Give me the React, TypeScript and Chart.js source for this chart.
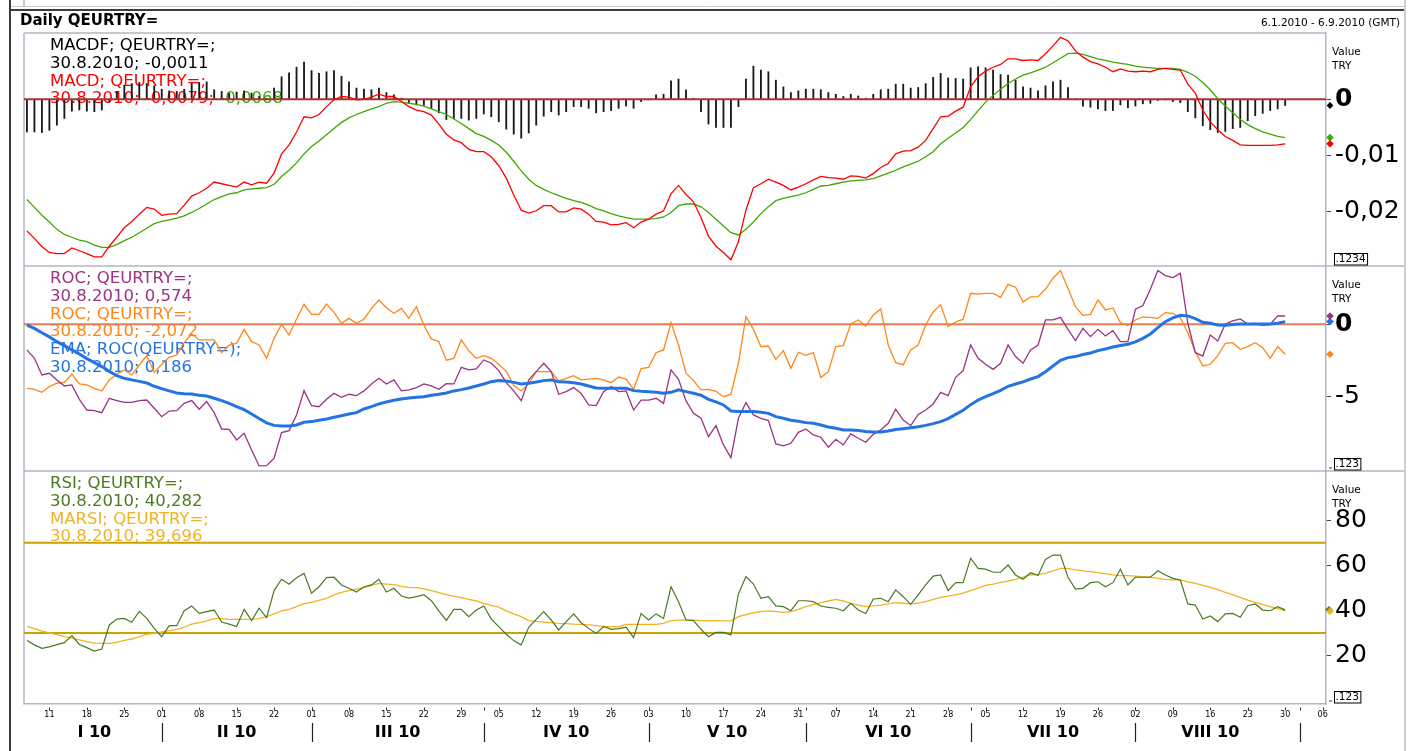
import React, { useEffect, useRef } from 'react';
import { Chart, registerables } from 'chart.js';

Chart.register(...registerables);

const FONT = "'DejaVu Sans', 'Liberation Sans', Arial, sans-serif";
Chart.defaults.font.family = FONT;

// x axis: business-day index, 0 = 6.1.2010 ... 168 = 30.8.2010
const TICK_LABELS = ['11','18','25','01','08','15','22','01','08','15','22','29','05','12','19','26','03','10','17','24','31','07','14','21','28','05','12','19','26','02','09','16','23','30','06'];
const FIRST_TICK = 3;
const TICK_STEP = 5;
const MONTH_LABELS = ['I 10','II 10','III 10','IV 10','V 10','VI 10','VII 10','VIII 10'];
const MONTH_STARTS = [0, 18, 38, 61, 83, 104, 126, 148, 170];
const LAST_DATE = '30.8.2010';
const X_MIN = -0.39;
const X_MAX = 173.45;

// MACD panel
const MACDF = [
  -0.0058,-0.0058,-0.0059,-0.0055,-0.0046,-0.0034,-0.0021,-0.0019,-0.0021,-0.0022,
  -0.0019,-0.0005,0.0014,0.0025,0.0028,0.0030,0.0028,0.0024,0.0018,0.0015,
  0.0014,0.0018,0.0028,0.0030,0.0031,0.0017,0.0014,0.0011,0.0013,0.0015,
  0.0011,0.0005,0.0002,0.0020,0.0040,0.0047,0.0057,0.0066,0.0051,0.0046,
  0.0049,0.0051,0.0041,0.0031,0.0020,0.0018,0.0017,0.0020,0.0012,0.0008,
  0.0002,-0.0007,-0.0010,-0.0011,-0.0016,-0.0024,-0.0036,-0.0034,-0.0034,-0.0037,
  -0.0034,-0.0026,-0.0031,-0.0040,-0.0053,-0.0062,-0.0069,-0.0060,-0.0046,-0.0030,
  -0.0022,-0.0028,-0.0022,-0.0013,-0.0013,-0.0016,-0.0024,-0.0022,-0.0020,-0.0016,
  -0.0012,-0.0016,-0.0004,-0.0001,0.0008,0.0009,0.0033,0.0036,0.0017,0.0002,
  -0.0022,-0.0044,-0.0050,-0.0050,-0.0050,-0.0013,0.0036,0.0059,0.0052,0.0049,
  0.0034,0.0022,0.0012,0.0015,0.0018,0.0018,0.0017,0.0012,0.0009,0.0005,
  0.0009,0.0006,0.0002,0.0009,0.0017,0.0018,0.0027,0.0027,0.0020,0.0021,
  0.0028,0.0039,0.0046,0.0038,0.0037,0.0036,0.0056,0.0058,0.0056,0.0052,
  0.0044,0.0043,0.0034,0.0022,0.0020,0.0015,0.0024,0.0031,0.0034,0.0021,
  0.0001,-0.0012,-0.0014,-0.0017,-0.0020,-0.0020,-0.0010,-0.0015,-0.0012,-0.0008,
  -0.0007,-0.0002,-0.0001,-0.0004,-0.0006,-0.0022,-0.0033,-0.0047,-0.0054,-0.0059,
  -0.0057,-0.0052,-0.0050,-0.0038,-0.0029,-0.0025,-0.0020,-0.0017,-0.0011,
];
const MACD = [
  -0.0234,-0.0247,-0.0262,-0.0272,-0.0274,-0.0274,-0.0264,-0.0269,-0.0274,-0.0280,
  -0.0280,-0.0261,-0.0245,-0.0228,-0.0217,-0.0204,-0.0192,-0.0195,-0.0206,-0.0204,
  -0.0203,-0.0188,-0.0172,-0.0166,-0.0158,-0.0147,-0.0150,-0.0153,-0.0156,-0.0147,
  -0.0152,-0.0147,-0.0149,-0.0131,-0.0097,-0.0081,-0.0058,-0.0031,-0.0033,-0.0027,
  -0.0013,-0.0001,0.0005,0.0004,-0.0001,0.0000,0.0004,0.0009,0.0005,0.0005,
  -0.0004,-0.0013,-0.0019,-0.0022,-0.0028,-0.0044,-0.0062,-0.0072,-0.0077,-0.0089,
  -0.0093,-0.0093,-0.0102,-0.0118,-0.0140,-0.0170,-0.0197,-0.0202,-0.0198,-0.0189,
  -0.0189,-0.0200,-0.0200,-0.0193,-0.0195,-0.0204,-0.0217,-0.0218,-0.0223,-0.0222,
  -0.0219,-0.0228,-0.0218,-0.0213,-0.0204,-0.0198,-0.0168,-0.0153,-0.0169,-0.0182,
  -0.0210,-0.0243,-0.0261,-0.0272,-0.0285,-0.0253,-0.0197,-0.0157,-0.0150,-0.0142,
  -0.0147,-0.0153,-0.0161,-0.0156,-0.0150,-0.0143,-0.0137,-0.0139,-0.0140,-0.0142,
  -0.0136,-0.0137,-0.0140,-0.0132,-0.0121,-0.0114,-0.0097,-0.0092,-0.0091,-0.0085,
  -0.0073,-0.0052,-0.0031,-0.0030,-0.0021,-0.0014,0.0022,0.0040,0.0050,0.0057,
  0.0062,0.0072,0.0072,0.0069,0.0070,0.0069,0.0081,0.0095,0.0110,0.0104,
  0.0086,0.0075,0.0067,0.0063,0.0057,0.0049,0.0054,0.0050,0.0049,0.0050,
  0.0049,0.0053,0.0055,0.0053,0.0052,0.0027,0.0011,-0.0019,-0.0040,-0.0054,
  -0.0066,-0.0073,-0.0081,-0.0082,-0.0082,-0.0082,-0.0082,-0.0081,-0.0079,
];
const MACD_SIGNAL = [
  -0.0178,-0.0192,-0.0206,-0.0218,-0.0231,-0.0240,-0.0245,-0.0250,-0.0253,-0.0259,
  -0.0263,-0.0263,-0.0258,-0.0251,-0.0245,-0.0237,-0.0229,-0.0221,-0.0217,-0.0214,
  -0.0211,-0.0207,-0.0201,-0.0194,-0.0186,-0.0178,-0.0173,-0.0168,-0.0166,-0.0161,
  -0.0159,-0.0158,-0.0157,-0.0151,-0.0137,-0.0126,-0.0113,-0.0097,-0.0084,-0.0074,
  -0.0063,-0.0052,-0.0041,-0.0033,-0.0027,-0.0022,-0.0017,-0.0013,-0.0007,-0.0004,
  -0.0005,-0.0007,-0.0009,-0.0012,-0.0017,-0.0022,-0.0027,-0.0035,-0.0043,-0.0052,
  -0.0061,-0.0066,-0.0073,-0.0081,-0.0094,-0.0110,-0.0127,-0.0142,-0.0153,-0.0160,
  -0.0166,-0.0171,-0.0176,-0.0180,-0.0183,-0.0188,-0.0194,-0.0198,-0.0203,-0.0207,
  -0.0210,-0.0213,-0.0213,-0.0213,-0.0212,-0.0209,-0.0201,-0.0189,-0.0186,-0.0186,
  -0.0191,-0.0201,-0.0213,-0.0225,-0.0237,-0.0241,-0.0231,-0.0218,-0.0203,-0.0191,
  -0.0180,-0.0176,-0.0173,-0.0170,-0.0166,-0.0160,-0.0154,-0.0153,-0.0150,-0.0147,
  -0.0145,-0.0144,-0.0143,-0.0141,-0.0136,-0.0131,-0.0126,-0.0120,-0.0115,-0.0110,
  -0.0102,-0.0093,-0.0079,-0.0069,-0.0060,-0.0050,-0.0036,-0.0020,-0.0005,0.0007,
  0.0018,0.0028,0.0036,0.0043,0.0047,0.0052,0.0057,0.0065,0.0073,0.0081,
  0.0082,0.0080,0.0076,0.0072,0.0069,0.0066,0.0064,0.0062,0.0059,0.0057,
  0.0056,0.0055,0.0055,0.0055,0.0053,0.0048,0.0041,0.0030,0.0017,0.0001,
  -0.0012,-0.0024,-0.0036,-0.0045,-0.0052,-0.0058,-0.0062,-0.0066,-0.0068,
];
const MACD_TICKS = [0, -0.01, -0.02];

// ROC panel
const ROC_A = [
  -1.77,-2.35,-3.50,-3.38,-3.84,-4.26,-4.19,-5.18,-5.92,-5.96,
  -6.10,-5.11,-5.27,-5.39,-5.39,-5.27,-5.23,-5.80,-6.38,-5.99,
  -5.96,-5.46,-5.27,-5.87,-5.34,-6.10,-7.23,-7.25,-7.99,-7.53,
  -8.68,-9.78,-9.76,-9.25,-7.48,-7.34,-6.26,-4.58,-5.62,-5.69,
  -5.18,-4.77,-5.04,-4.83,-4.93,-4.60,-4.12,-3.73,-4.12,-3.84,
  -4.60,-4.53,-4.37,-4.12,-4.26,-4.49,-4.10,-4.12,-2.97,-3.15,
  -3.08,-2.46,-2.69,-3.20,-4.03,-4.60,-5.27,-3.84,-3.27,-2.69,
  -3.27,-4.83,-4.65,-4.37,-4.77,-5.57,-5.62,-4.65,-4.30,-4.65,
  -4.60,-5.92,-5.23,-5.23,-5.11,-5.46,-3.15,-3.80,-5.29,-6.15,
  -6.49,-7.76,-7.00,-8.33,-9.21,-6.49,-5.41,-6.26,-6.49,-6.65,
  -8.26,-8.40,-8.22,-7.46,-7.23,-7.64,-7.80,-8.49,-7.94,-8.33,
  -7.57,-7.87,-8.15,-7.60,-7.30,-6.84,-5.87,-6.61,-7.00,-6.22,
  -5.92,-5.50,-4.70,-4.93,-3.66,-3.20,-1.43,-2.35,-2.76,-3.11,
  -2.69,-1.43,-2.23,-2.69,-1.77,-1.43,0.30,0.30,0.48,-0.35,
  -1.13,-0.28,-0.85,-0.35,-0.81,-0.44,-1.20,-1.20,1.04,1.29,
  2.42,3.71,3.36,3.22,3.52,0.07,-1.96,-2.19,-0.74,-1.15,
  0.02,0.23,0.37,0.02,0.07,-0.07,0.00,0.58,0.574,
];
const ROC_B = [
  -4.42,-4.49,-4.70,-4.30,-4.07,-4.01,-3.43,-4.12,-4.19,-4.42,
  -4.60,-3.84,-3.45,-3.15,-3.50,-2.81,-2.16,-3.34,-2.76,-2.28,
  -2.12,-1.27,-0.67,-1.08,-1.08,-1.08,-1.96,-1.43,-1.31,-0.35,
  -1.20,-1.43,-2.35,-0.97,0.00,-0.74,0.37,1.38,0.69,0.69,
  1.40,0.83,0.07,0.41,0.07,0.35,1.10,1.68,1.15,0.76,
  1.10,0.41,1.22,-0.05,-1.01,-1.20,-2.48,-2.35,-1.08,-1.84,
  -2.35,-2.16,-2.35,-2.76,-3.25,-4.21,-4.60,-4.12,-3.27,-3.27,
  -3.27,-3.91,-3.73,-3.55,-3.84,-3.78,-3.73,-3.84,-4.03,-3.64,
  -3.78,-4.49,-3.06,-2.97,-1.96,-1.77,0.12,-1.43,-3.38,-3.89,
  -4.53,-4.49,-4.63,-5.00,-4.83,-2.69,0.53,-0.35,-1.54,-1.50,
  -2.42,-1.82,-3.04,-1.93,-2.14,-1.96,-3.68,-3.27,-1.54,-1.47,
  0.02,0.30,-0.12,0.65,1.06,-1.43,-2.65,-2.79,-1.77,-1.43,
  -0.05,0.85,1.34,-0.16,0.16,0.35,2.14,2.09,2.14,2.14,
  1.86,2.76,2.56,1.54,1.89,1.91,2.42,3.18,3.71,2.49,
  1.22,0.62,0.69,1.68,0.99,1.13,0.12,-0.09,0.30,0.51,
  0.48,0.41,0.81,0.76,0.46,-0.58,-1.89,-2.88,-2.76,-2.16,
  -1.31,-1.27,-1.73,-1.54,-1.27,-1.61,-2.35,-1.54,-2.072,
];
const ROC_EMA = [
  -0.05,-0.28,-0.58,-0.87,-1.20,-1.47,-1.77,-2.05,-2.37,-2.65,
  -2.92,-3.25,-3.55,-3.73,-3.84,-3.94,-4.05,-4.28,-4.44,-4.60,
  -4.74,-4.79,-4.81,-4.90,-4.95,-5.11,-5.27,-5.46,-5.69,-5.89,
  -6.19,-6.51,-6.81,-6.98,-7.02,-7.02,-6.95,-6.77,-6.72,-6.63,
  -6.54,-6.42,-6.31,-6.19,-6.10,-5.85,-5.69,-5.50,-5.36,-5.25,
  -5.16,-5.09,-5.04,-5.00,-4.90,-4.83,-4.74,-4.60,-4.51,-4.40,
  -4.26,-4.12,-3.96,-3.89,-3.91,-4.01,-4.12,-4.07,-3.98,-3.89,
  -3.84,-3.96,-3.98,-4.03,-4.12,-4.26,-4.40,-4.42,-4.42,-4.42,
  -4.42,-4.58,-4.63,-4.65,-4.70,-4.76,-4.70,-4.53,-4.65,-4.76,
  -4.90,-5.18,-5.36,-5.57,-5.99,-6.03,-6.03,-6.03,-6.08,-6.15,
  -6.38,-6.49,-6.63,-6.70,-6.79,-6.84,-6.95,-7.09,-7.18,-7.30,
  -7.30,-7.34,-7.41,-7.43,-7.44,-7.37,-7.27,-7.21,-7.14,-7.07,
  -6.98,-6.86,-6.72,-6.51,-6.22,-5.94,-5.55,-5.23,-5.00,-4.79,
  -4.56,-4.28,-4.12,-3.98,-3.78,-3.61,-3.27,-2.88,-2.49,-2.30,
  -2.23,-2.09,-1.98,-1.82,-1.70,-1.57,-1.47,-1.38,-1.22,-0.97,
  -0.67,-0.23,0.18,0.44,0.62,0.58,0.39,0.14,0.07,-0.05,
  -0.07,-0.02,0.02,0.02,0.02,0.02,0.02,0.07,0.186,
];
const ROC_TICKS = [0, -5];

// RSI panel
const RSI = [
  26.7,24.8,23.3,23.9,24.9,25.8,28.9,25.0,23.6,22.1,
  23.0,33.6,36.2,36.5,34.8,39.6,36.5,32.1,28.4,33.3,
  33.3,39.9,42.0,38.7,39.5,40.2,34.9,34.0,32.9,40.5,
  35.5,41.0,36.8,48.8,53.8,51.6,54.5,56.4,47.6,50.5,
  54.5,54.7,51.3,49.8,48.2,50.5,51.3,53.8,48.2,49.8,
  46.4,45.5,46.1,47.0,44.3,39.8,35.6,40.5,40.5,37.3,
  40.2,42.0,36.2,32.9,29.5,26.7,24.8,32.6,36.1,39.5,
  35.8,31.4,35.1,38.5,34.6,32.1,29.8,32.9,31.7,32.0,
  32.6,28.0,38.7,35.8,38.5,36.5,50.5,43.9,35.8,35.5,
  31.7,28.4,30.3,30.3,29.2,47.3,55.0,51.7,45.4,46.1,
  42.0,41.7,39.9,44.3,44.3,43.9,42.0,41.4,41.0,39.9,
  43.2,40.2,38.7,45.1,45.4,43.9,49.1,46.1,42.7,46.9,
  51.3,55.2,55.7,48.8,52.3,52.3,63.1,58.6,58.3,56.9,
  56.9,60.1,55.7,53.8,56.7,55.5,62.6,64.5,64.5,54.7,
  49.5,49.8,52.3,52.7,50.5,52.3,58.2,51.3,54.7,54.7,
  54.7,57.6,55.7,54.2,53.5,42.9,42.4,36.2,37.6,35.1,
  38.5,38.7,37.0,42.1,42.9,40.2,39.9,41.7,40.282,
];
const MARSI = [
  33.0,32.0,30.9,30.1,29.3,28.4,27.8,27.0,26.2,25.6,
  25.5,25.5,25.9,26.8,27.4,28.4,29.5,29.9,30.5,31.1,
  31.7,32.6,34.0,34.6,35.4,36.4,36.4,36.1,36.1,36.1,
  36.2,36.4,37.3,38.5,39.8,40.5,41.7,43.0,43.6,44.5,
  45.4,46.9,48.0,48.8,49.4,50.1,51.1,52.0,51.7,51.4,
  50.7,50.2,50.1,49.6,48.8,47.9,47.0,46.4,45.7,44.9,
  44.2,43.2,42.3,41.5,39.8,38.5,37.3,35.5,35.2,34.9,
  34.6,34.3,34.2,34.0,33.9,33.6,33.3,32.9,32.9,32.9,
  33.9,33.9,33.9,33.9,33.9,34.3,35.5,35.7,35.8,35.7,
  35.5,35.5,35.5,35.4,35.4,37.3,38.2,39.0,39.5,39.8,
  39.5,39.2,39.5,40.5,41.7,42.6,43.5,44.2,44.9,44.2,
  43.2,42.4,41.7,42.0,42.4,42.9,43.5,43.2,42.9,43.3,
  43.9,44.9,45.8,46.4,46.9,47.7,48.8,49.9,51.1,51.7,
  52.4,53.0,53.8,54.7,55.7,56.0,56.4,57.5,58.6,58.6,
  58.0,57.5,57.2,56.7,56.3,55.7,55.4,55.4,55.2,55.0,
  54.7,54.2,53.8,53.6,53.5,52.7,52.0,51.1,50.2,49.2,
  48.0,47.0,45.8,44.6,43.6,42.7,41.7,40.8,39.696,
];
const RSI_TICKS = [80, 60, 40, 20];
const RSI_LEVELS = [70, 30];

// colours
const C_BLACK = '#000000';
const C_MACDF = '#1a1a1a';
const C_MACD = '#ff0000';
const C_SIGNAL = '#3ea800';
const C_ZERO_MACD = '#a83232';
const C_ROC_A = '#9b3286';
const C_ROC_B = '#ff8616';
const C_EMA = '#2573e3';
const C_ZERO_ROC = '#e67d55';
const C_RSI = '#4a7a22';
const C_MARSI = '#f0b324';
const C_LEVEL = '#c9a300';
const AXIS_LINE = '#b4b4c6';

const last = (a: number[]) => a[a.length - 1];
const fmt = (v: number, d: number) => v.toFixed(d).replace('.', ',');
const tickLabel = (v: number) => (v === 0 ? '0' : String(+v.toFixed(4)).replace('.', ','));
const pts = (arr: number[]) => arr.map((y, x) => ({ x, y }));
const flat = (v: number) => [{ x: X_MIN, y: v }, { x: X_MAX, y: v }];

type Seg = [string, string];
const LEGEND_MACD: Seg[][] = [
  [['MACDF; QEURTRY=;', C_BLACK]],
  [[`${LAST_DATE}; ${fmt(last(MACDF), 4)}`, C_BLACK]],
  [['MACD; QEURTRY=;', C_MACD]],
  [[`${LAST_DATE}; ${fmt(last(MACD), 4)}; `, C_MACD], [fmt(last(MACD_SIGNAL), 4), C_SIGNAL]],
];
const LEGEND_ROC: Seg[][] = [
  [['ROC; QEURTRY=;', C_ROC_A]],
  [[`${LAST_DATE}; ${fmt(last(ROC_A), 3)}`, C_ROC_A]],
  [['ROC; QEURTRY=;', C_ROC_B]],
  [[`${LAST_DATE}; ${fmt(last(ROC_B), 3)}`, C_ROC_B]],
  [['EMA; ROC(QEURTRY=);', C_EMA]],
  [[`${LAST_DATE}; ${fmt(last(ROC_EMA), 3)}`, C_EMA]],
];
const LEGEND_RSI: Seg[][] = [
  [['RSI; QEURTRY=;', C_RSI]],
  [[`${LAST_DATE}; ${fmt(last(RSI), 3)}`, C_RSI]],
  [['MARSI; QEURTRY=;', C_MARSI]],
  [[`${LAST_DATE}; ${fmt(last(MARSI), 3)}`, C_MARSI]],
];

function line(ctx: any, x1: number, y1: number, x2: number, y2: number, color: string, w: number) {
  ctx.beginPath();
  ctx.strokeStyle = color;
  ctx.lineWidth = w;
  ctx.moveTo(x1, y1);
  ctx.lineTo(x2, y2);
  ctx.stroke();
}

function diamond(ctx: any, x: number, y: number, r: number, color: string) {
  ctx.beginPath();
  ctx.fillStyle = color;
  ctx.moveTo(x, y - r);
  ctx.lineTo(x + r, y);
  ctx.lineTo(x, y + r);
  ctx.lineTo(x - r, y);
  ctx.closePath();
  ctx.fill();
}

const pagePlugin = {
  id: 'page',
  beforeDraw(chart: any) {
    const { ctx, chartArea: a, width, height } = chart;
    const sM = chart.scales.yMacd, sR = chart.scales.yRoc, sS = chart.scales.yRsi;
    const fr = sM.right;
    ctx.save();
    ctx.fillStyle = '#ffffff';
    ctx.fillRect(0, 0, width, height);
    line(ctx, a.left, 0, a.left, 6, AXIS_LINE, 1.5);
    line(ctx, 11, 6.5, fr, 6.5, '#c8c8c8', 1);
    line(ctx, 9, 10, fr, 10, '#3c3c3c', 2);
    line(ctx, 10, 0, 10, height, '#3c3c3c', 2);
    line(ctx, fr + 1, 0, fr + 1, height, '#d4d0c8', 2);
    ctx.fillStyle = '#000';
    ctx.textBaseline = 'middle';
    ctx.textAlign = 'left';
    ctx.font = `bold 15px ${FONT}`;
    ctx.fillText('Daily QEURTRY=', 20, 21);
    ctx.font = `10.5px ${FONT}`;
    ctx.textAlign = 'right';
    ctx.fillText('6.1.2010 - 6.9.2010 (GMT)', fr - 4, 23);
    line(ctx, a.left, sM.top, a.right, sM.top, AXIS_LINE, 1.5);
    line(ctx, a.left, sR.top, fr, sR.top, AXIS_LINE, 1.5);
    line(ctx, a.left, sS.top, fr, sS.top, AXIS_LINE, 1.5);
    line(ctx, a.left, a.top, a.left, a.bottom, AXIS_LINE, 1.5);
    ctx.restore();
  },
};

const legendPlugin = {
  id: 'panelLegend',
  beforeDatasetsDraw(chart: any) {
    const { ctx } = chart;
    const panels: [any, Seg[][]][] = [
      [chart.scales.yMacd, LEGEND_MACD],
      [chart.scales.yRoc, LEGEND_ROC],
      [chart.scales.yRsi, LEGEND_RSI],
    ];
    ctx.save();
    ctx.font = `16.5px ${FONT}`;
    ctx.textBaseline = 'middle';
    ctx.textAlign = 'left';
    panels.forEach(([s, lines]) => {
      lines.forEach((segs, k) => {
        let x = 50;
        const y = s.top + 12.7 + k * 17.8;
        segs.forEach(([t, c]) => {
          ctx.fillStyle = c;
          ctx.fillText(t, x, y);
          x += ctx.measureText(t).width;
        });
      });
    });
    ctx.restore();
  },
};

const extrasPlugin = {
  id: 'extras',
  afterDraw(chart: any) {
    const { ctx } = chart;
    const xs = chart.scales.x;
    const sM = chart.scales.yMacd, sR = chart.scales.yRoc, sS = chart.scales.yRsi;
    ctx.save();
    // "Value / TRY" and the boxed precision labels
    [[sM, '.1234', false], [sR, '.123', true], [sS, '.123', true]].forEach(([s, box, dash]: any) => {
      ctx.fillStyle = '#000';
      ctx.textAlign = 'left';
      ctx.textBaseline = 'middle';
      ctx.font = `10.5px ${FONT}`;
      ctx.fillText('Value', s.left + 6, s.top + 19);
      ctx.fillText('TRY', s.left + 6, s.top + 33.5);
      const w = ctx.measureText(box).width;
      const bx = s.left + 8;
      const by = s.bottom - 13;
      ctx.fillText(box, bx + 1.5, by + 6.5);
      ctx.strokeStyle = '#000';
      ctx.lineWidth = 1;
      ctx.strokeRect(bx + 0.5, by + 0.5, w + 3, 11.5);
      if (dash) line(ctx, s.left + 3, s.bottom - 3, s.left + 6, s.bottom - 3, '#333', 1);
    });
    // last-value markers
    const dx = sM.left + 4;
    diamond(ctx, dx, sM.getPixelForValue(last(MACD_SIGNAL)), 3.8, C_SIGNAL);
    diamond(ctx, dx, sM.getPixelForValue(last(MACD)), 3.8, C_MACD);
    diamond(ctx, dx, sM.getPixelForValue(last(MACDF)), 3.4, C_BLACK);
    diamond(ctx, dx, sR.getPixelForValue(last(ROC_B)), 3.8, C_ROC_B);
    diamond(ctx, dx, sR.getPixelForValue(last(ROC_EMA)), 3.8, C_EMA);
    diamond(ctx, dx, sR.getPixelForValue(last(ROC_A)), 3.8, C_ROC_A);
    diamond(ctx, dx - 1, sS.getPixelForValue(last(RSI)), 3.8, C_RSI);
    diamond(ctx, dx, sS.getPixelForValue(last(MARSI)), 3.8, C_MARSI);
    // x tick marks
    const ty = xs.top;
    const marks = TICK_LABELS.map((_, k) => FIRST_TICK + k * TICK_STEP).concat(MONTH_STARTS.slice(1));
    marks.forEach((v) => {
      const x = Math.round(xs.getPixelForValue(v)) + 0.5;
      line(ctx, x, ty + 3.5, x, ty + 6.5, '#333', 1);
    });
    // month bands
    const lastIdx = MACD.length - 1;
    ctx.fillStyle = '#000';
    ctx.font = `bold 16px ${FONT}`;
    ctx.textAlign = 'center';
    ctx.textBaseline = 'middle';
    MONTH_LABELS.forEach((lab, k) => {
      const x0 = xs.getPixelForValue(MONTH_STARTS[k]);
      const x1 = xs.getPixelForValue(Math.min(MONTH_STARTS[k + 1], lastIdx));
      ctx.fillText(lab, (x0 + x1) / 2, ty + 28.7);
    });
    MONTH_STARTS.slice(1).forEach((v) => {
      const x = Math.round(xs.getPixelForValue(v)) + 0.5;
      line(ctx, x, ty + 19, x, ty + 38, '#222', 1.2);
    });
    ctx.restore();
  },
};

function yAxis(min: number, max: number, weight: number, ticks: number[]) {
  return {
    type: 'linear',
    axis: 'y',
    position: 'right',
    stack: 'panels',
    stackWeight: weight,
    min,
    max,
    offset: false,
    afterBuildTicks: (s: any) => {
      s.ticks = ticks.map((value) => ({ value }));
    },
    afterFit: (s: any) => {
      s.width = 78;
    },
    grid: { display: true, drawOnChartArea: false, drawTicks: true, tickLength: 5, color: '#444', lineWidth: 1 },
    border: { display: true, color: AXIS_LINE, width: 1.5 },
    ticks: {
      autoSkip: false,
      padding: 4,
      color: '#000',
      font: (c: any) => ({ family: FONT, size: 25, weight: c.tick && c.tick.value === 0 ? 'bold' : 'normal' }),
      callback: (v: any) => tickLabel(Number(v)),
    },
  };
}

const lineDs = (label: string, data: any[], axis: string, color: string, width: number, order: number) => ({
  type: 'line',
  label,
  data,
  yAxisID: axis,
  borderColor: color,
  backgroundColor: color,
  borderWidth: width,
  pointRadius: 0,
  tension: 0,
  fill: false,
  order,
});

export default function App() {
  const ref = useRef<HTMLCanvasElement>(null);
  useEffect(() => {
    const canvas = ref.current;
    if (!canvas) return;
    const chart = new Chart(canvas, {
      type: 'line',
      data: {
        datasets: [
          lineDs('MACD', pts(MACD), 'yMacd', C_MACD, 1.3, 1),
          lineDs('Signal', pts(MACD_SIGNAL), 'yMacd', C_SIGNAL, 1.3, 2),
          lineDs('zero', flat(0), 'yMacd', C_ZERO_MACD, 2, 3),
          {
            type: 'bar',
            label: 'MACDF',
            data: pts(MACDF),
            yAxisID: 'yMacd',
            backgroundColor: C_MACDF,
            borderWidth: 0,
            barThickness: 1.2,
            order: 4,
          },
          lineDs('EMA ROC', pts(ROC_EMA), 'yRoc', C_EMA, 3, 0),
          lineDs('ROC A', pts(ROC_A), 'yRoc', C_ROC_A, 1.3, 1),
          lineDs('ROC B', pts(ROC_B), 'yRoc', C_ROC_B, 1.3, 2),
          lineDs('zero ROC', flat(0), 'yRoc', C_ZERO_ROC, 2, 3),
          lineDs('RSI', pts(RSI), 'yRsi', C_RSI, 1.2, 0),
          lineDs('MARSI', pts(MARSI), 'yRsi', C_MARSI, 1.3, 1),
          ...RSI_LEVELS.map((v) => lineDs(`level ${v}`, flat(v), 'yRsi', C_LEVEL, 2, 3)),
        ] as any,
      },
      options: {
        animation: false,
        responsive: false,
        maintainAspectRatio: false,
        devicePixelRatio: 1,
        events: [],
        layout: { padding: { left: 24, top: 33, right: 13, bottom: 0 } },
        plugins: { legend: { display: false }, tooltip: { enabled: false }, title: { display: false } },
        scales: {
          x: {
            type: 'linear',
            position: 'bottom',
            min: X_MIN,
            max: X_MAX,
            offset: false,
            afterBuildTicks: (s: any) => {
              s.ticks = TICK_LABELS.map((_, k) => ({ value: FIRST_TICK + k * TICK_STEP }));
            },
            afterFit: (s: any) => {
              s.height = 47;
            },
            grid: { display: false, drawTicks: false },
            border: { display: true, color: AXIS_LINE, width: 1.5 },
            ticks: {
              autoSkip: false,
              maxRotation: 0,
              padding: 6,
              color: '#000',
              font: { family: FONT, size: 8 },
              callback: (v: any) => TICK_LABELS[Math.round((Number(v) - FIRST_TICK) / TICK_STEP)] ?? '',
            },
          },
          yMacd: yAxis(-0.02961, 0.01178, 233, MACD_TICKS),
          yRoc: yAxis(-10.131, 4.026, 205, ROC_TICKS),
          yRsi: yAxis(-1.33, 101.66, 233, RSI_TICKS),
        } as any,
      },
      plugins: [pagePlugin, legendPlugin, extrasPlugin],
    } as any);
    return () => chart.destroy();
  }, []);
  return (
    <div style={{ position: 'fixed', left: 0, top: 0, width: 1417, height: 751, background: '#fff' }}>
      <canvas ref={ref} width={1417} height={751} style={{ display: 'block', width: 1417, height: 751 }} />
    </div>
  );
}
